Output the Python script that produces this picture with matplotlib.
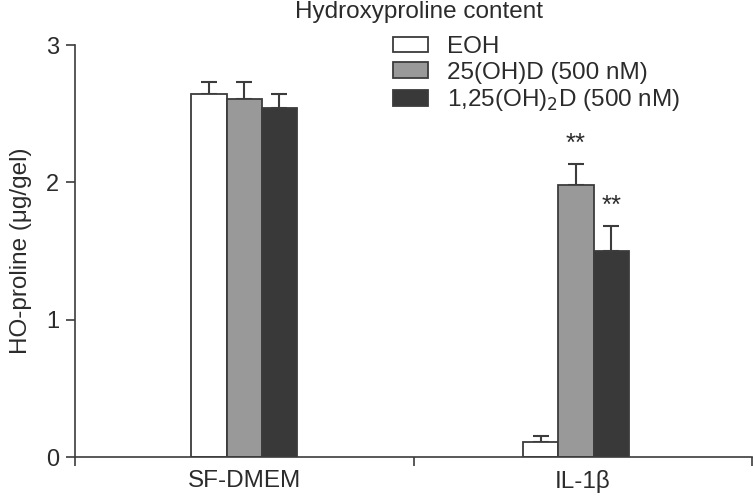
"""Hydroxyproline content: grouped bars with upper error bars."""

import matplotlib
matplotlib.use("Agg")
import matplotlib.pyplot as plt
from matplotlib.patches import Patch
import numpy as np

# ── Data ──────────────────────────────────────────────────────────────────────
GROUPS      = ["SF-DMEM", "IL-1β"]
SERIES      = ["EOH", "25(OH)D (500 nM)", "1,25(OH)$_2$D (500 nM)"]
EOH_MEAN    = [2.64, 0.11]
EOH_ERR     = [0.09, 0.04]
D25_MEAN    = [2.61, 1.98]
D25_ERR     = [0.12, 0.15]
D125_MEAN   = [2.54, 1.50]
D125_ERR    = [0.10, 0.18]
STARS       = [["", ""], ["", "**"], ["", "**"]]   # per series, per group

# ── Style ─────────────────────────────────────────────────────────────────────
EDGE    = "#3c3c3c"
TEXT    = "#2b2b2b"
COLORS  = ["#ffffff", "#999999", "#393939"]
FS      = 17.5
plt.rcParams["font.family"] = ["Liberation Sans", "DejaVu Sans"]

fig = plt.figure(figsize=(7.53, 4.98), dpi=100)
ax = fig.add_axes([75 / 753, 1 - 457 / 498, 677 / 753, 412 / 498])

group_x = np.array([0.0, 0.98])
width   = 0.104
means   = [EOH_MEAN, D25_MEAN, D125_MEAN]
errs    = [EOH_ERR, D25_ERR, D125_ERR]

for i, (m, e, c) in enumerate(zip(means, errs, COLORS)):
    x = group_x + (i - 1) * width
    ax.bar(x, m, width=width, color=c, edgecolor=EDGE, linewidth=1.3, zorder=2)
    ax.errorbar(x, m, yerr=[np.zeros(len(e)), e], fmt="none", ecolor=EDGE,
                elinewidth=1.5, capsize=6, capthick=1.5, zorder=1)
    for xi, mi, ei, s in zip(x, m, e, STARS[i]):
        if s:
            ax.text(xi, mi + ei + 0.06, s, ha="center", va="bottom",
                    fontsize=18.5, color=TEXT)

ax.set_xlim(-0.5, 1.5)
ax.set_ylim(0, 3)
ax.set_yticks([0, 1, 2, 3])
ax.set_xticks([-0.5, 0.5, 1.5])
ax.set_xticklabels([])
ax.set_xticks([0, 1], minor=True)
ax.set_xticklabels(GROUPS, minor=True)
ax.tick_params(axis="x", which="minor", length=0, pad=9, labelsize=FS, colors=TEXT)
ax.tick_params(axis="both", which="major", direction="out", length=6.5,
               width=1.2, color=EDGE, labelsize=17, labelcolor=TEXT, pad=5)

for side in ("top", "right"):
    ax.spines[side].set_visible(False)
for side in ("left", "bottom"):
    ax.spines[side].set_color(EDGE)
    ax.spines[side].set_linewidth(1.2)

ax.set_ylabel("HO-proline (μg/gel)", fontsize=FS, color=TEXT, labelpad=10)
fig.text(419 / 753, 1 - 12 / 498, "Hydroxyproline content", ha="center",
         va="center", fontsize=FS, color=TEXT)

handles = [Patch(facecolor=c, edgecolor=EDGE, linewidth=1.3) for c in COLORS]
ax.legend(handles, SERIES, loc="upper left", bbox_to_anchor=(393 / 753, 1 - 36 / 498),
          bbox_transform=fig.transFigure, frameon=False, fontsize=FS,
          handlelength=1.44, handleheight=0.62, handletextpad=0.78,
          labelspacing=0.15, borderpad=0, borderaxespad=0, labelcolor=TEXT)

fig.savefig("out.png", dpi=100)
